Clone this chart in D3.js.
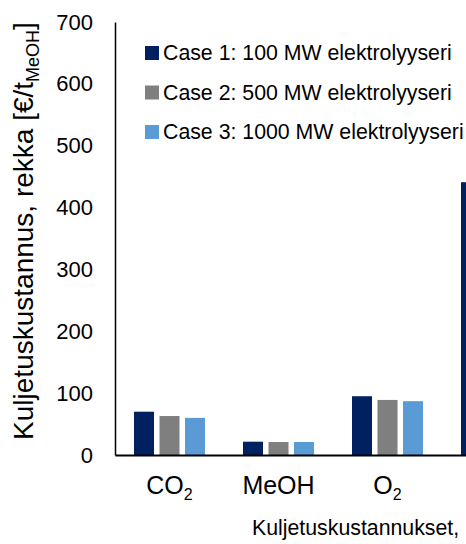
<!DOCTYPE html>
<html>
<head>
<meta charset="utf-8">
<script src="https://cdn.jsdelivr.net/npm/d3@7"></script>
<style>
  html, body { margin: 0; padding: 0; background: #fff; }
  svg { display: block; font-family: "Liberation Sans", Arial, sans-serif; }
</style>
</head>
<body>
<svg id="chart" width="466" height="544"></svg>
<script>
// ---- data ----
const categories = ["CO2", "MeOH", "O2", "cat4"];
const categoryMain = ["CO", "MeOH", "O", ""];
const categorySub = ["2", "", "2", ""];
const seriesNames = [
  "Case 1: 100 MW elektrolyyseri",
  "Case 2: 500 MW elektrolyyseri",
  "Case 3: 1000 MW elektrolyyseri"
];
const case1 = [70, 21.5, 95, 441];
const case2 = [63, 21, 89, null];
const case3 = [60, 21, 87, null];
const yTicks = [0, 100, 200, 300, 400, 500, 600, 700];
const colors = ["#002060", "#7f7f7f", "#5b9bd5"];

const seriesValues = [case1, case2, case3];

const svg = d3.select("#chart");

const x0 = d3.scaleBand().domain(categories).range([115, 551]).padding(0);
const x1 = d3.scaleBand().domain(d3.range(3)).range([19, 90]).paddingInner(0.2157).paddingOuter(0);
const y = d3.scaleLinear().domain([0, 700]).range([455, 22]);

// bars
const groups = svg.append("g").selectAll("g")
  .data(categories).join("g")
  .attr("transform", d => `translate(${x0(d)},0)`);

groups.selectAll("rect")
  .data((d, i) => seriesValues.map((s, k) => ({ k, v: s[i] })).filter(o => o.v != null))
  .join("rect")
  .attr("x", d => x1(d.k))
  .attr("width", x1.bandwidth())
  .attr("y", d => y(d.v))
  .attr("height", d => y(0) - y(d.v))
  .attr("fill", d => colors[d.k]);

// y axis
const yAxis = d3.axisLeft(y).tickValues(yTicks).tickSize(0).tickPadding(22);
const gy = svg.append("g").attr("transform", "translate(115,0)").call(yAxis);
gy.select(".domain").attr("stroke", "#000").attr("stroke-width", 1.5);
gy.selectAll("text").attr("font-size", 22).attr("fill", "#000")
  .attr("font-family", "Liberation Sans, Arial, sans-serif");

// x axis line
const xAxis = d3.axisBottom(x0).tickSize(0).tickFormat("");
const gx = svg.append("g").attr("transform", "translate(0,455)").call(xAxis);
gx.select(".domain").attr("stroke", "#000").attr("stroke-width", 2);

// category labels with subscripts
const catLabels = svg.append("g");
categories.forEach((c, i) => {
  if (!categoryMain[i]) return;
  const t = catLabels.append("text")
    .attr("x", x0(c) + x0.bandwidth() / 2)
    .attr("y", 494)
    .attr("text-anchor", "middle")
    .attr("font-size", 25)
    .attr("fill", "#000");
  t.append("tspan").text(categoryMain[i]);
  if (categorySub[i]) {
    t.append("tspan").attr("font-size", 16).attr("dy", 6).text(categorySub[i]);
  }
});

// y title
const yt = svg.append("text")
  .attr("transform", "translate(33,231) rotate(-90)")
  .attr("text-anchor", "middle")
  .attr("font-size", 28)
  .attr("fill", "#000");
yt.append("tspan").text("Kuljetuskustannus, rekka [€/t");
yt.append("tspan").attr("font-size", 18).attr("dy", 6).text("MeOH");
yt.append("tspan").attr("dy", -6).text("]");

// x title (partially visible)
svg.append("text")
  .attr("x", 252).attr("y", 535)
  .attr("font-size", 21.3)
  .attr("fill", "#000")
  .text("Kuljetuskustannukset,");

// legend
const legend = svg.append("g");
seriesNames.forEach((name, k) => {
  const cy = 53 + k * 39.5;
  legend.append("rect").attr("x", 145).attr("y", cy - 7).attr("width", 14).attr("height", 14).attr("fill", colors[k]);
  legend.append("text").attr("x", 163).attr("y", cy).attr("dy", "0.35em")
    .attr("font-size", 21.3).attr("fill", "#000").text(name);
});
</script>
</body>
</html>
